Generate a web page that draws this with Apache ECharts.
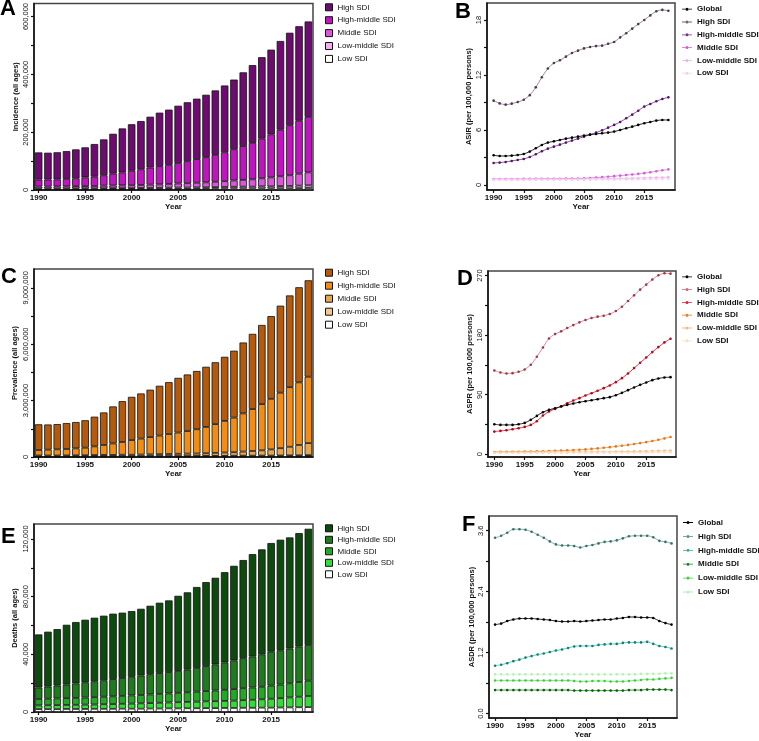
<!DOCTYPE html>
<html><head><meta charset="utf-8">
<script src="https://cdn.jsdelivr.net/npm/echarts@6.0.0/dist/echarts.min.js"></script>
<style>html,body{margin:0;padding:0;background:#fff}#c{width:759px;height:741px}</style>
</head><body><div id="c"></div>
<script>
const years = [1990,1991,1992,1993,1994,1995,1996,1997,1998,1999,2000,2001,2002,2003,2004,2005,2006,2007,2008,2009,2010,2011,2012,2013,2014,2015,2016,2017,2018,2019];
const xTickYears = [1990,1995,2000,2005,2010,2015];

// A: Incidence (all ages)
const incHigh = [94000,93000,94000,96000,100000,104000,113000,124000,138000,152000,161000,167000,176000,185000,191000,198000,204000,209000,216000,223000,231000,241000,255000,269000,282000,293000,307000,320000,327000,330000];
const incHighMid = [24000,24000,24000,26000,27000,30000,32000,36000,41000,45000,50000,54000,59000,63000,66000,71000,76000,82000,87000,93000,100000,108000,117000,126000,137000,149000,161000,173000,183000,192000];
const incMid = [7000,7000,7500,7500,8000,8000,8500,9000,9000,9500,10000,10500,11000,12000,13000,14000,15000,16000,17000,18500,20000,22000,23500,25500,28000,31000,34000,37000,41500,45000];
const incLowMid = [3000,3000,3000,3000,3500,3500,3500,3500,4000,4000,4000,4000,4500,4500,4500,5000,5000,5000,5500,5500,6000,6000,6500,6500,7000,7000,7500,8000,8500,9000];
const incLow = [2000,2000,2000,2000,2000,2000,2000,2500,2500,2500,2500,3000,3000,3000,3500,3500,3500,4000,4000,4500,4500,5000,5000,5000,5500,5500,6000,6000,6500,7000];

// C: Prevalence (all ages)
const prevHigh = [1370000,1340000,1340000,1380000,1400000,1460000,1580000,1730000,1970000,2170000,2300000,2400000,2520000,2650000,2760000,2910000,3010000,3100000,3200000,3290000,3410000,3560000,3770000,4000000,4210000,4400000,4630000,4880000,5060000,5130000];
const prevHighMid = [290000,310000,330000,340000,370000,400000,460000,530000,610000,680000,780000,850000,920000,990000,1060000,1130000,1200000,1290000,1400000,1530000,1680000,1840000,2030000,2230000,2460000,2690000,2950000,3170000,3330000,3530000];
const prevMid = [50000,50000,50000,55000,60000,65000,65000,70000,70000,80000,80000,90000,90000,100000,110000,120000,130000,130000,140000,160000,180000,190000,220000,250000,280000,330000,390000,460000,550000,640000];
const prevLowMid = [20000,20000,20000,20000,20000,20000,25000,25000,25000,25000,25000,25000,30000,30000,30000,30000,30000,35000,35000,35000,35000,40000,40000,40000,45000,45000,45000,50000,55000,60000];
const prevLow = [10000,10000,10000,10000,10000,10000,15000,15000,15000,15000,15000,15000,20000,20000,20000,20000,20000,20000,25000,25000,25000,25000,30000,30000,30000,30000,35000,35000,35000,40000];

// E: Deaths (all ages)
const deathHigh = [36800,38100,39200,41500,42600,43400,44100,44800,45400,45300,45600,46300,47500,48800,49700,52100,53600,56100,58300,60100,62600,65600,68100,71000,72800,75400,76700,77100,78700,80600];
const deathHighMid = [8000,8400,8900,9400,10000,10600,11000,11400,11900,12400,12900,13500,14000,14400,14800,15200,15700,16500,17300,18100,19000,19900,20800,21500,22500,23500,23800,24100,24600,24800];
const deathMid = [4400,4500,4600,4700,4800,4900,5100,5200,5400,5500,5700,5800,6000,6200,6300,6500,6700,6900,7100,7400,7700,8000,8300,8500,8700,9100,9400,9800,10200,10600];
const deathLowMid = [2600,2700,2800,2800,2900,3000,3000,3200,3300,3400,3500,3700,3800,4000,4100,4300,4400,4600,4700,4800,4900,5100,5300,5600,5800,6200,6500,6900,7300,7700];
const deathLow = [2000,2000,2000,2100,2100,2100,2200,2200,2200,2300,2300,2300,2400,2400,2500,2500,2600,2600,2700,2700,2800,2800,2900,2900,3000,3000,3100,3200,3300,3400];

// B: ASIR
const asirGlobal = [3.24,3.16,3.16,3.20,3.27,3.38,3.64,4.00,4.36,4.62,4.76,4.90,5.05,5.16,5.27,5.38,5.49,5.56,5.64,5.71,5.82,6.00,6.18,6.36,6.55,6.73,6.87,7.02,7.09,7.09];
const asirHigh = [9.20,8.90,8.76,8.87,9.05,9.30,9.80,10.65,11.75,12.70,13.30,13.60,14.00,14.40,14.65,14.90,15.05,15.15,15.20,15.40,15.60,16.10,16.55,17.05,17.55,18.00,18.50,18.95,19.10,19.00];
const asirHighMid = [2.40,2.44,2.51,2.62,2.73,2.84,3.05,3.35,3.67,3.96,4.18,4.40,4.62,4.84,5.05,5.27,5.49,5.71,5.96,6.25,6.55,6.87,7.27,7.67,8.10,8.55,8.84,9.13,9.38,9.56];
const asirMid = [0.65,0.65,0.65,0.65,0.65,0.66,0.66,0.66,0.67,0.67,0.68,0.68,0.69,0.70,0.71,0.73,0.76,0.80,0.85,0.90,0.96,1.02,1.08,1.14,1.21,1.29,1.39,1.50,1.60,1.70];
const asirLowMid = [0.60,0.60,0.60,0.60,0.60,0.60,0.61,0.61,0.61,0.62,0.62,0.62,0.63,0.63,0.64,0.64,0.65,0.66,0.67,0.68,0.69,0.70,0.71,0.73,0.74,0.76,0.78,0.80,0.82,0.85];
const asirLow = [0.55,0.55,0.55,0.55,0.55,0.55,0.55,0.56,0.56,0.56,0.56,0.57,0.57,0.57,0.58,0.58,0.58,0.59,0.59,0.60,0.60,0.61,0.61,0.62,0.63,0.63,0.64,0.65,0.66,0.67];

// D: ASPR
const asprGlobal = [45.4,44.4,44.4,44.4,45.4,47.4,52.0,58.0,63.6,67.1,69.6,72.1,74.7,76.7,78.7,80.2,81.7,83.2,84.8,86.3,89.3,92.8,96.9,100.9,104.9,108.5,112.0,114.5,116.0,116.5];
const asprHigh = [126.6,123.6,122.1,122.6,124.6,128.1,135.2,147.3,161.4,175.0,181.6,185.7,190.7,195.2,199.3,202.8,205.8,207.9,209.4,211.9,216.4,223.0,231.6,240.1,248.7,256.3,263.9,270.4,273.4,272.9];
const asprHighMid = [34.3,35.3,36.3,37.8,39.4,41.4,44.4,50.0,58.5,64.6,68.6,72.6,77.2,81.2,84.8,88.8,92.3,95.9,99.9,103.9,109.0,115.0,122.1,130.2,138.2,146.3,154.4,161.9,169.0,174.6];
const asprMid = [3.5,3.6,3.7,3.8,3.9,4.0,4.2,4.4,4.6,4.9,5.2,5.5,5.9,6.3,6.8,7.4,8.1,8.9,9.8,10.8,11.9,13.0,14.2,15.5,16.9,18.4,20.0,21.9,24.0,26.2];
const asprLowMid = [3.0,3.0,3.0,3.0,3.1,3.1,3.1,3.2,3.2,3.2,3.3,3.3,3.4,3.4,3.5,3.5,3.6,3.7,3.8,3.9,4.0,4.1,4.2,4.4,4.5,4.7,4.9,5.1,5.3,5.5];
const asprLow = [2.0,2.0,2.0,2.0,2.0,2.0,2.1,2.1,2.1,2.1,2.2,2.2,2.2,2.3,2.3,2.3,2.4,2.4,2.5,2.5,2.6,2.6,2.7,2.7,2.8,2.8,2.9,3.0,3.1,3.2];

// F: ASDR
const asdrGlobal = [1.75,1.77,1.82,1.85,1.87,1.87,1.87,1.86,1.85,1.84,1.82,1.81,1.81,1.82,1.81,1.82,1.83,1.84,1.85,1.85,1.87,1.88,1.90,1.90,1.89,1.89,1.88,1.82,1.78,1.75];
const asdrHigh = [3.46,3.50,3.56,3.63,3.63,3.62,3.58,3.52,3.46,3.39,3.33,3.31,3.31,3.30,3.27,3.30,3.32,3.35,3.38,3.39,3.41,3.45,3.49,3.50,3.50,3.50,3.47,3.40,3.38,3.35];
const asdrHighMid = [0.94,0.96,0.99,1.03,1.06,1.10,1.13,1.16,1.18,1.21,1.24,1.26,1.29,1.32,1.33,1.33,1.33,1.35,1.36,1.37,1.37,1.39,1.40,1.40,1.40,1.41,1.37,1.33,1.31,1.28];
const asdrMid = [0.46,0.46,0.46,0.46,0.46,0.46,0.46,0.46,0.46,0.46,0.46,0.46,0.46,0.45,0.45,0.45,0.45,0.45,0.45,0.45,0.45,0.45,0.46,0.46,0.46,0.47,0.47,0.47,0.47,0.46];
const asdrLowMid = [0.65,0.65,0.65,0.65,0.65,0.65,0.65,0.65,0.65,0.65,0.65,0.65,0.65,0.64,0.63,0.63,0.64,0.64,0.64,0.63,0.63,0.63,0.64,0.65,0.66,0.67,0.67,0.68,0.69,0.70];
const asdrLow = [0.77,0.77,0.77,0.77,0.77,0.77,0.77,0.77,0.77,0.77,0.77,0.77,0.77,0.77,0.77,0.77,0.77,0.77,0.77,0.77,0.77,0.77,0.77,0.77,0.78,0.78,0.78,0.78,0.79,0.79];

// tick values
const ticksA = [0,100000,200000,300000,400000,500000,600000];
const labelsA = [0,200000,400000,600000];
const ticksC = [0,1500000,3000000,4500000,6000000,7500000,9000000];
const labelsC = [0,3000000,6000000,9000000];
const ticksE = [0,20000,40000,60000,80000,100000,120000];
const labelsE = [0,40000,80000,120000];
const ticksB = [0,3,6,9,12,15,18];
const labelsB = [0,6,12,18];
const ticksD = [0,45,90,135,180,225,270];
const labelsD = [0,90,180,270];
const ticksF = [0,0.6,1.2,1.8,2.4,3.0,3.6];
const labelsF = [0,1.2,2.4,3.6];

const FONT = 'Arial, "Liberation Sans", sans-serif';
const INK = '#111';
const pairs = vals => years.map((y, i) => [y, vals[i]]);
const comma = v => Number(v).toLocaleString('en-US');
const LINE_ICON = 'path://M0,2.1H3.6V2.9H0Z M6.4,2.1H10V2.9H6.4Z M3.5,2.5a1.5,1.5 0 1,0 3,0a1.5,1.5 0 1,0 -3,0Z';

const grids = [], xAxes = [], yAxes = [], series = [], legends = [], graphics = [];

function addPanel(cfg) {
  const gi = grids.length;
  const isBar = cfg.kind === 'bar';
  grids.push({ left: cfg.box[0], top: cfg.box[1], width: cfg.box[2], height: cfg.box[3],
    show: true, borderColor: '#444', borderWidth: 1.5, backgroundColor: 'transparent' });
  const xCommon = {
    axisLine: { show: true, onZero: false, lineStyle: { color: INK, width: 1.5 } },
    splitLine: { show: false },
    name: 'Year', nameLocation: 'middle', nameGap: 13,
    nameTextStyle: { fontSize: 8, fontWeight: 'bold', color: INK, fontFamily: FONT } };
  if (isBar) {
    xAxes.push(Object.assign({ gridIndex: gi, type: 'category', data: years.map(String), boundaryGap: true,
      axisTick: { show: true, interval: 4, alignWithLabel: true, length: 3, lineStyle: { color: INK, width: 1.2 } },
      axisLabel: { interval: 4, fontSize: 8, fontWeight: 'bold', color: INK, margin: 4, fontFamily: FONT } }, xCommon));
  } else {
    xAxes.push(Object.assign({ gridIndex: gi, type: 'value', min: cfg.xr[0], max: cfg.xr[1],
      axisTick: { show: true, customValues: xTickYears, length: 3, lineStyle: { color: INK, width: 1.2 } },
      axisLabel: { customValues: xTickYears, formatter: v => String(v), fontSize: 8, fontWeight: 'bold',
        color: INK, margin: 4, fontFamily: FONT } }, xCommon));
  }
  yAxes.push({ gridIndex: gi, type: 'value', min: cfg.yr[0], max: cfg.yr[1],
    axisLine: { show: true, onZero: false, lineStyle: { color: INK, width: 1.5 } },
    axisTick: { show: true, customValues: cfg.yTicks, length: 3, lineStyle: { color: INK, width: 1.2 } },
    axisLabel: { customValues: cfg.yLabels, formatter: cfg.fmt, rotate: 90, fontSize: 7.5,
      color: INK, margin: 4, fontFamily: FONT },
    splitLine: { show: false },
    name: cfg.yName, nameLocation: 'middle', nameGap: cfg.nameGap,
    nameTextStyle: { fontSize: 7.5, fontWeight: 'bold', color: INK, fontFamily: FONT } });
  const legendItems = [];
  cfg.series.forEach(s => {
    const nm = cfg.key + ':' + s.name;
    if (isBar) {
      series.push({ type: 'bar', name: nm, xAxisIndex: gi, yAxisIndex: gi, stack: cfg.key,
        barWidth: 7.5, data: s.data, animation: false,
        itemStyle: { color: s.color, borderColor: INK, borderWidth: 0.8 } });
      legendItems.unshift({ name: nm, icon: 'rect',
        itemStyle: { color: s.color, borderColor: INK, borderWidth: 1 } });
    } else {
      series.push({ type: 'line', name: nm, xAxisIndex: gi, yAxisIndex: gi, smooth: 0.3, clip: false,
        symbol: 'circle', symbolSize: 2.6, data: pairs(s.data), animation: false, z: s.z || 2,
        lineStyle: { color: s.color, width: 1 }, itemStyle: { color: s.marker } });
      legendItems.push({ name: nm, icon: LINE_ICON,
        itemStyle: { color: s.legend || s.marker, borderWidth: 0 } });
    }
  });
  legends.push({ left: cfg.legend[0], top: cfg.legend[1], orient: 'vertical', selectedMode: false,
    data: legendItems, itemGap: cfg.legend[2], padding: 0,
    itemWidth: isBar ? 7 : 10, itemHeight: isBar ? 7 : 3,
    formatter: n => n.slice(cfg.key.length + 1),
    textStyle: { fontSize: 8, lineHeight: 8, color: INK, fontFamily: FONT,
      fontWeight: isBar ? 'normal' : 'bold' } });
  graphics.push({ type: 'text', left: cfg.letter[0], top: cfg.letter[1],
    style: { text: cfg.key, font: 'bold 22px ' + FONT, fill: '#000' } });
}

addPanel({ key: 'A', kind: 'bar', box: [34, 3, 279, 187], yr: [0, 645000],
  yTicks: ticksA, yLabels: labelsA, fmt: comma, yName: 'Incidence (all ages)', nameGap: 14,
  legend: [325, 3.3, 4.9], letter: [0, -2],
  series: [
    { name: 'Low SDI', data: incLow, color: '#ffffff' },
    { name: 'Low-middle SDI', data: incLowMid, color: '#f2b0f2' },
    { name: 'Middle SDI', data: incMid, color: '#dc55dc' },
    { name: 'High-middle SDI', data: incHighMid, color: '#c014c0' },
    { name: 'High SDI', data: incHigh, color: '#6e0b70' } ] });

addPanel({ key: 'B', kind: 'line', box: [487, 3, 188, 187], xr: [1988.9, 2020.1], yr: [-0.55, 19.85],
  yTicks: ticksB, yLabels: labelsB, fmt: v => String(v), yName: 'ASIR (per 100,000 persons)', nameGap: 14.5,
  legend: [682, 5.2, 4.8], letter: [455, 1],
  series: [
    { name: 'Global', data: asirGlobal, color: '#222', marker: '#000', z: 5 },
    { name: 'High SDI', data: asirHigh, color: '#a088a0', marker: '#4a3a4a', legend: '#7a5e7a' },
    { name: 'High-middle SDI', data: asirHighMid, color: '#9a4aaa', marker: '#4a1a5a', legend: '#7a2e8a' },
    { name: 'Middle SDI', data: asirMid, color: '#e48ae4', marker: '#d060d0' },
    { name: 'Low-middle SDI', data: asirLowMid, color: '#f2c4f2', marker: '#eab0ea' },
    { name: 'Low SDI', data: asirLow, color: '#f9e2f9', marker: '#f3d0f3' } ] });

addPanel({ key: 'C', kind: 'bar', box: [34, 269, 279, 188], yr: [0, 10000000],
  yTicks: ticksC, yLabels: labelsC, fmt: comma, yName: 'Prevalence (all ages)', nameGap: 15,
  legend: [325, 268.7, 5], letter: [1, 266],
  series: [
    { name: 'Low SDI', data: prevLow, color: '#ffffff' },
    { name: 'Low-middle SDI', data: prevLowMid, color: '#f6c88e' },
    { name: 'Middle SDI', data: prevMid, color: '#e9a64a' },
    { name: 'High-middle SDI', data: prevHighMid, color: '#f38c14' },
    { name: 'High SDI', data: prevHigh, color: '#b5590b' } ] });

addPanel({ key: 'D', kind: 'line', box: [488, 271, 188, 186], xr: [1988.96, 2019.9], yr: [-4.1, 276.9],
  yTicks: ticksD, yLabels: labelsD, fmt: v => String(v), yName: 'ASPR (per 100,000 persons)', nameGap: 14,
  legend: [682, 272.8, 4.8], letter: [457, 268],
  series: [
    { name: 'Global', data: asprGlobal, color: '#222', marker: '#000', z: 5 },
    { name: 'High SDI', data: asprHigh, color: '#dc8c98', marker: '#9a3a4a', legend: '#c86878' },
    { name: 'High-middle SDI', data: asprHighMid, color: '#f2303e', marker: '#a01020', legend: '#e02030' },
    { name: 'Middle SDI', data: asprMid, color: '#f2a050', marker: '#e07a20' },
    { name: 'Low-middle SDI', data: asprLowMid, color: '#f8d2aa', marker: '#f2bc86' },
    { name: 'Low SDI', data: asprLow, color: '#fde9d8', marker: '#f8dcc4' } ] });

addPanel({ key: 'E', kind: 'bar', box: [34, 524, 279, 188], yr: [0, 130400],
  yTicks: ticksE, yLabels: labelsE, fmt: comma, yName: 'Deaths (all ages)', nameGap: 15.5,
  legend: [325, 524.3, 3.5], letter: [1, 526],
  series: [
    { name: 'Low SDI', data: deathLow, color: '#ffffff' },
    { name: 'Low-middle SDI', data: deathLowMid, color: '#36dc36' },
    { name: 'Middle SDI', data: deathMid, color: '#22a822' },
    { name: 'High-middle SDI', data: deathHighMid, color: '#1e7c1e' },
    { name: 'High SDI', data: deathHigh, color: '#0d4a0d' } ] });

addPanel({ key: 'F', kind: 'line', box: [489, 516, 188, 202], xr: [1989.0, 2019.9], yr: [-0.09, 3.89],
  yTicks: ticksF, yLabels: labelsF, fmt: v => v.toFixed(1), yName: 'ASDR (per 100,000 persons)', nameGap: 13.5,
  legend: [683, 518.5, 5.9], letter: [462, 514],
  series: [
    { name: 'Global', data: asdrGlobal, color: '#222', marker: '#000', z: 5 },
    { name: 'High SDI', data: asdrHigh, color: '#78b4aa', marker: '#3e6e66', legend: '#5a9088' },
    { name: 'High-middle SDI', data: asdrHighMid, color: '#44d4c2', marker: '#1e7a6e', legend: '#34b0a0' },
    { name: 'Middle SDI', data: asdrMid, color: '#2aa02a', marker: '#0e5a0e', legend: '#1e801e' },
    { name: 'Low-middle SDI', data: asdrLowMid, color: '#72ee72', marker: '#3ccc3c' },
    { name: 'Low SDI', data: asdrLow, color: '#d2f8d2', marker: '#b6f0b6' } ] });

const chart = echarts.init(document.getElementById('c'), null, { renderer: 'canvas' });
chart.setOption({ animation: false, backgroundColor: '#fff', textStyle: { fontFamily: FONT },
  grid: grids, xAxis: xAxes, yAxis: yAxes, series: series, legend: legends, graphic: graphics });
</script>
</body></html>
